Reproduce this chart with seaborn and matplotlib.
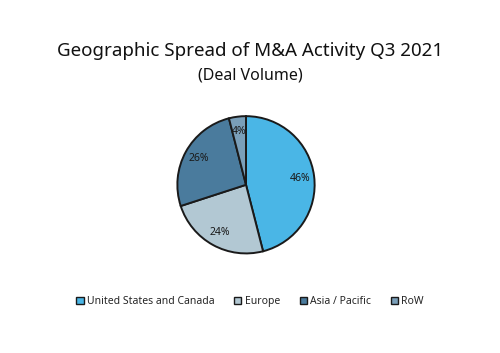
import matplotlib
matplotlib.use('Agg')
import matplotlib.pyplot as plt
import seaborn as sns
from matplotlib.patches import Patch

# Data
regions = ['United States and Canada', 'Europe', 'Asia / Pacific', 'RoW']
shares = [46, 24, 26, 4]
colors = ['#4ab6e6', '#b2c8d3', '#4a7b9d', '#7a9fb9']

sns.set_style('white')
plt.rcParams['font.family'] = ['Noto Sans', 'DejaVu Sans']

fig = plt.figure(figsize=(5, 3.53), dpi=100)
fig.patch.set_facecolor('white')

fig.text(0.5, 0.855, 'Geographic Spread of M&A Activity Q3 2021',
         ha='center', va='center', fontsize=13.5, color='#111111')
fig.text(0.5, 0.785, '(Deal Volume)', ha='center', va='center',
         fontsize=11.5, color='#111111')

ax = fig.add_axes([0.352, 0.278, 0.28, 0.397])
wedges, texts, autotexts = ax.pie(
    shares, colors=colors, startangle=90, counterclock=False,
    autopct='%d%%', pctdistance=0.79,
    wedgeprops={'edgecolor': '#1a1a1a', 'linewidth': 1.4})
for t in autotexts:
    t.set_fontsize(7.5)
    t.set_color('#1a1a1a')
    t.set_fontweight('semibold')
ax.set_xlim(-1.02, 1.02)
ax.set_ylim(-1.02, 1.02)
ax.set_aspect('equal')

handles = [Patch(facecolor=c, edgecolor='#1a1a1a', linewidth=1) for c in colors]
fig.legend(handles, regions, loc='center', bbox_to_anchor=(0.5, 0.145),
           ncol=4, frameon=False, fontsize=7.5, handlelength=0.7,
           handleheight=0.7, handletextpad=0.3, columnspacing=1.9)

fig.savefig('out.png', dpi=100, facecolor='white')
